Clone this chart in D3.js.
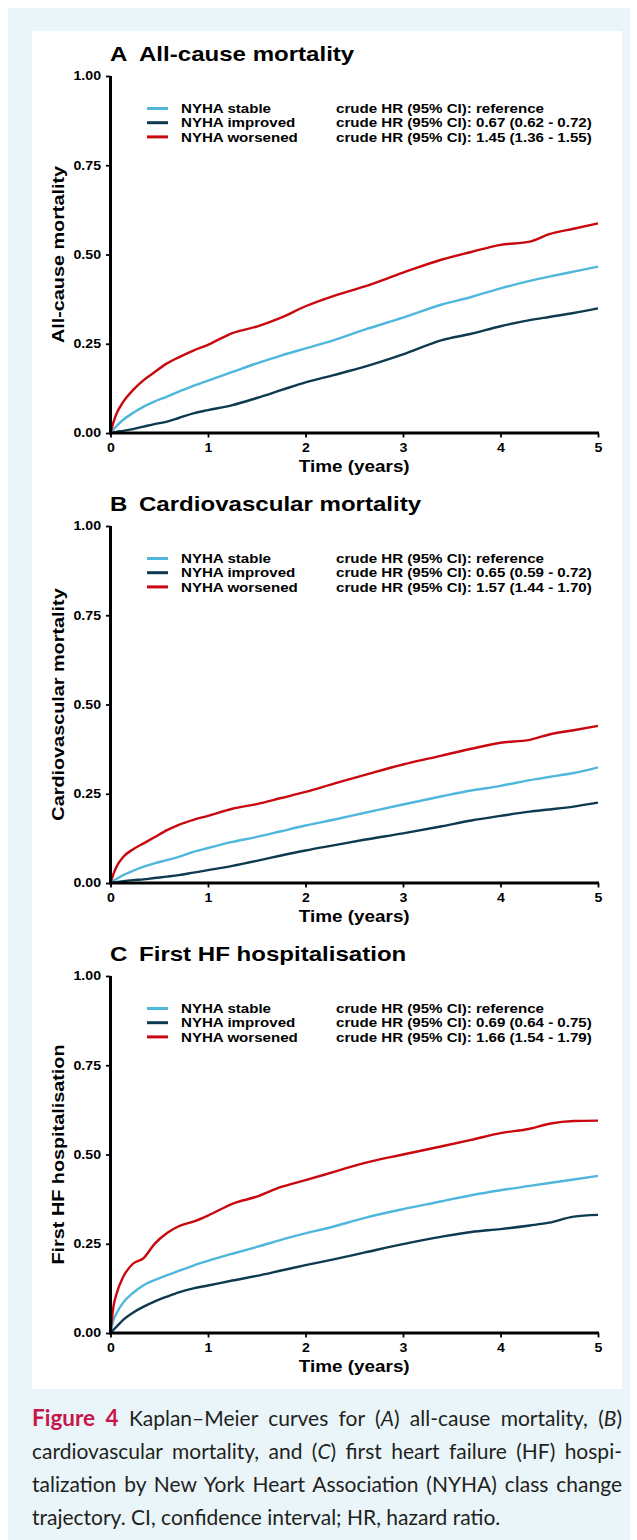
<!DOCTYPE html>
<html>
<head>
<meta charset="utf-8">
<script src="https://cdn.jsdelivr.net/npm/d3@7"></script>
<style>
  html, body { margin: 0; padding: 0; background: #fff; }
  body { position: relative; width: 637px; height: 1540px; overflow: hidden; }
  svg { position: absolute; left: 0; top: 0; }
  .caption { position: absolute; left: 32px; top: 1401px; width: 590px; font-family: Lato, 'Open Sans', sans-serif; font-size: 21px; color: #231f20; line-height: 33px; }
  .caption .ln { text-align: justify; text-align-last: justify; white-space: nowrap; }
  .caption .ln.last { text-align-last: left; }
  .caption b { color: #c8164b; font-weight: 700; font-size: 22.5px; }
</style>
</head>
<body>
<div id="chart"></div>
<div class="caption">
  <div class="ln"><b>Figure 4</b> Kaplan–Meier curves for (<i>A</i>) all-cause mortality, (<i>B</i>)</div>
  <div class="ln">cardiovascular mortality, and (<i>C</i>) first heart failure (HF) hospi-</div>
  <div class="ln">talization by New York Heart Association (NYHA) class change</div>
  <div class="ln last">trajectory. CI, confidence interval; HR, hazard ratio.</div>
</div>
<script>
const stableC   = '#4fb6dc';
const improvedC = '#0e3a50';
const worsenedC = '#c8080e';
const ink = '#000';

const years = [0, 0.03, 0.06, 0.13, 0.23, 0.34, 0.45, 0.58, 0.7, 0.85, 1.0, 1.25, 1.5, 1.75, 2.0, 2.3, 2.6, 3.0, 3.4, 3.7, 4.0, 4.3, 4.5, 4.75, 5.0];

// A all-cause mortality
const allCauseStable   = [0, 0.010, 0.019, 0.037, 0.056, 0.074, 0.088, 0.102, 0.116, 0.132, 0.147, 0.171, 0.195, 0.217, 0.237, 0.261, 0.289, 0.323, 0.360, 0.381, 0.405, 0.426, 0.438, 0.452, 0.466];
const allCauseImproved = [0, 0.001, 0.003, 0.006, 0.011, 0.018, 0.025, 0.032, 0.042, 0.055, 0.064, 0.078, 0.098, 0.120, 0.142, 0.163, 0.185, 0.220, 0.260, 0.278, 0.299, 0.316, 0.325, 0.336, 0.349];
const allCauseWorsened = [0, 0.030, 0.053, 0.087, 0.120, 0.148, 0.170, 0.195, 0.212, 0.231, 0.247, 0.280, 0.298, 0.323, 0.355, 0.385, 0.410, 0.449, 0.486, 0.507, 0.527, 0.536, 0.557, 0.572, 0.587];

// B cardiovascular mortality
const cvStable   = [0, 0.006, 0.011, 0.022, 0.034, 0.046, 0.055, 0.064, 0.073, 0.087, 0.098, 0.115, 0.129, 0.145, 0.161, 0.178, 0.196, 0.220, 0.243, 0.259, 0.272, 0.288, 0.297, 0.308, 0.324];
const cvImproved = [0, 0.001, 0.002, 0.005, 0.008, 0.010, 0.014, 0.018, 0.022, 0.029, 0.036, 0.048, 0.062, 0.077, 0.091, 0.106, 0.121, 0.139, 0.159, 0.175, 0.188, 0.200, 0.206, 0.214, 0.225];
const cvWorsened = [0, 0.025, 0.045, 0.073, 0.094, 0.111, 0.128, 0.148, 0.163, 0.177, 0.188, 0.208, 0.221, 0.238, 0.255, 0.279, 0.302, 0.332, 0.357, 0.376, 0.393, 0.401, 0.416, 0.428, 0.440];

// C first HF hospitalisation
const hfStable   = [0, 0.036, 0.054, 0.085, 0.112, 0.134, 0.148, 0.162, 0.174, 0.189, 0.202, 0.222, 0.241, 0.261, 0.279, 0.299, 0.322, 0.347, 0.369, 0.386, 0.400, 0.412, 0.420, 0.430, 0.440];
const hfImproved = [0, 0.009, 0.017, 0.037, 0.057, 0.074, 0.088, 0.102, 0.114, 0.125, 0.133, 0.147, 0.160, 0.175, 0.190, 0.207, 0.225, 0.249, 0.270, 0.283, 0.291, 0.301, 0.309, 0.326, 0.331];
const hfWorsened = [0, 0.074, 0.108, 0.157, 0.194, 0.210, 0.249, 0.280, 0.299, 0.312, 0.329, 0.362, 0.382, 0.409, 0.428, 0.452, 0.476, 0.500, 0.523, 0.541, 0.560, 0.572, 0.586, 0.594, 0.595];

const groupNames   = ['NYHA stable', 'NYHA improved', 'NYHA worsened'];
const panelLetters = ['A', 'B', 'C'];
const panelTitles  = ['All-cause mortality', 'Cardiovascular mortality', 'First HF hospitalisation'];
const hrLabels = [
  ['crude HR (95% CI): reference', 'crude HR (95% CI): 0.67 (0.62 - 0.72)', 'crude HR (95% CI): 1.45 (1.36 - 1.55)'],
  ['crude HR (95% CI): reference', 'crude HR (95% CI): 0.65 (0.59 - 0.72)', 'crude HR (95% CI): 1.57 (1.44 - 1.70)'],
  ['crude HR (95% CI): reference', 'crude HR (95% CI): 0.69 (0.64 - 0.75)', 'crude HR (95% CI): 1.66 (1.54 - 1.79)'],
];
const panelSeries = [
  [allCauseStable, allCauseImproved, allCauseWorsened],
  [cvStable, cvImproved, cvWorsened],
  [hfStable, hfImproved, hfWorsened],
];
const yTicks = [0, 0.25, 0.5, 0.75, 1];
const xTicks = [0, 1, 2, 3, 4, 5];
const xLabel = 'Time (years)';

const colors = [stableC, improvedC, worsenedC];
const FONT = "'Liberation Sans', Arial, Helvetica, sans-serif";
const SX = 1.18; // the source figure's lettering is horizontally stretched

const W = 637, H = 1540;
const svg = d3.select('#chart').append('svg').attr('width', W).attr('height', H);

// frame: pale blue box with a white figure panel
svg.append('rect').attr('x', 8).attr('y', 8).attr('width', 622).attr('height', H - 8).attr('fill', '#e9f5f8');
svg.append('rect').attr('x', 32).attr('y', 31).attr('width', 590).attr('height', 1358).attr('fill', '#fff');

function label(parent, x, y, str, size, anchor, rot) {
  return parent.append('text')
    .attr('transform', `translate(${x},${y})${rot ? ' rotate(' + rot + ')' : ''} scale(${SX},1)`)
    .attr('text-anchor', anchor || 'start')
    .style('font-family', FONT).style('font-weight', 'bold')
    .style('font-size', size + 'px').style('fill', ink)
    .text(str);
}

const margin = { left: 110.5, right: 39, top: 76, bottom: 17 };
const panelH = 450;

const x = d3.scaleLinear().domain([0, 5]).range([margin.left, W - margin.right]);
const y = d3.scaleLinear().domain([0, 1]).range([433, margin.top]);

panelSeries.forEach((series, p) => {
  const g = svg.append('g').attr('transform', `translate(0,${p * panelH})`);

  // title
  label(g, 110, 60.7, panelLetters[p], 20.4);
  label(g, 139, 60.7, panelTitles[p], 20.4);

  // curves
  const line = d3.line()
    .x((d, i) => x(years[i]))
    .y(d => y(d))
    .curve(d3.curveMonotoneX);

  series.forEach((vals, k) => {
    g.append('path').datum(vals)
      .attr('d', line)
      .attr('fill', 'none')
      .attr('stroke', colors[k])
      .attr('stroke-width', 2.4)
      .attr('stroke-linejoin', 'round');
  });

  // axes
  const yAx = g.append('g').attr('transform', `translate(${x(0)},0)`)
    .call(d3.axisLeft(y).tickValues(yTicks).tickFormat(d3.format('.2f')).tickSize(4.5).tickSizeOuter(0).tickPadding(5));
  const xAx = g.append('g').attr('transform', `translate(0,${y(0)})`)
    .call(d3.axisBottom(x).tickValues(xTicks).tickFormat(d3.format('d')).tickSize(4.5).tickSizeOuter(0).tickPadding(6));

  [yAx, xAx].forEach(a => {
    a.select('.domain').attr('stroke', ink).attr('stroke-width', 3);
    a.selectAll('.tick line').attr('stroke', ink).attr('stroke-width', 1.8);
    a.selectAll('text')
      .style('font-family', FONT).style('font-weight', 'bold').style('font-size', '12px').style('fill', ink)
      .attr('transform', `scale(${SX},1)`);
  });
  yAx.selectAll('text').attr('x', -9.5 / SX);
  // extend the x axis so it meets the y axis line
  xAx.select('.domain').attr('d', `M${x(0) - 1.5},0H${x(5) + 1}`);
  yAx.select('.domain').attr('d', `M0,${y(1)}V${y(0) + 1.5}`);

  // axis titles
  label(g, (x(0) + x(5)) / 2, 472, xLabel, 16, 'middle');
  label(g, 63.5, (y(0) + y(1)) / 2, panelTitles[p], 16.8, 'middle', -90);

  // legend
  groupNames.forEach((name, k) => {
    const ly = 108.5 + k * 14.2;
    g.append('line').attr('x1', 147).attr('x2', 168).attr('y1', ly).attr('y2', ly)
      .attr('stroke', colors[k]).attr('stroke-width', 3);
    label(g, 181, ly + 4.6, name, 12.8);
    label(g, 336, ly + 4.6, hrLabels[p][k], 12.8);
  });
});
</script>
</body>
</html>
